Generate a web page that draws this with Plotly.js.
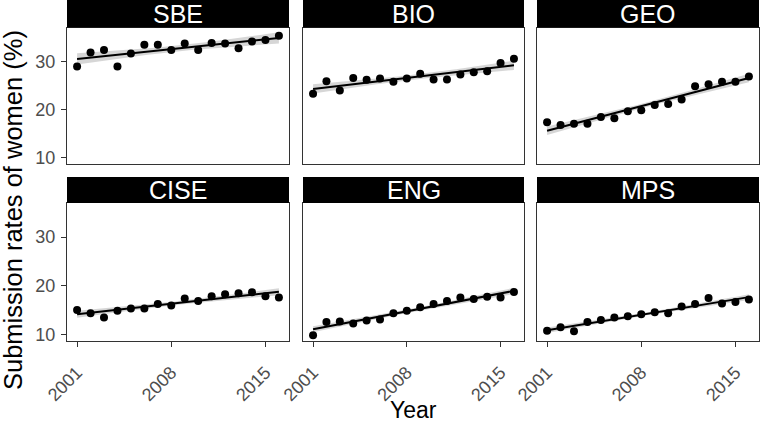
<!DOCTYPE html>
<html><head><meta charset="utf-8">
<script src="https://cdn.plot.ly/plotly-3.0.1.min.js"></script>
<style>html,body{margin:0;padding:0;background:#fff}#chart{width:760px;height:435px}</style>
</head><body><div id="chart"></div>
<script>
const years = [2001,2002,2003,2004,2005,2006,2007,2008,2009,2010,2011,2012,2013,2014,2015,2016];
const panels = ["SBE","BIO","GEO","CISE","ENG","MPS"];
const SBE  = [29.0,31.9,32.4,29.0,31.7,33.5,33.5,32.4,33.75,32.4,33.9,33.75,32.8,34.2,34.5,35.4];
const BIO  = [23.3,25.9,24.0,26.6,26.25,26.5,25.8,26.5,27.5,26.3,26.3,27.3,27.8,28.0,29.7,30.6];
const GEO  = [17.4,16.8,17.1,17.1,18.5,18.2,19.7,19.9,21.0,21.2,22.1,24.9,25.3,25.8,25.8,26.9];
const CISE = [15.07,14.4,13.5,14.9,15.35,15.35,16.3,16.0,17.4,16.9,17.9,18.3,18.5,18.7,17.9,17.6];
const ENG  = [9.9,12.6,12.7,12.3,12.9,13.1,14.4,14.9,15.6,16.3,16.9,17.6,17.3,17.8,17.6,18.75];
const MPS  = [10.8,11.5,10.7,12.6,13.0,13.5,13.75,14.2,14.6,14.4,15.8,16.3,17.5,16.4,16.7,17.2];
const series = [SBE,BIO,GEO,CISE,ENG,MPS];
const xTicks = [2001,2008,2015];
const yTicks = [10,20,30];

const W=760,H=435;
const xDom = [[67,289],[303,524],[537,759]];
const yDom = [[28,164],[203,341]]; // pixel top,bottom
const T = 2.1448; // t(0.975, 14)

function fit(x,y){
  const n=x.length; const mx=x.reduce((a,b)=>a+b)/n; const my=y.reduce((a,b)=>a+b)/n;
  let sxx=0,sxy=0; for(let i=0;i<n;i++){sxx+=(x[i]-mx)**2; sxy+=(x[i]-mx)*(y[i]-my);}
  const b=sxy/sxx, a=my-b*mx; let sse=0; for(let i=0;i<n;i++){sse+=(y[i]-a-b*x[i])**2;}
  const s=Math.sqrt(sse/(n-2));
  const xs=[],yh=[],lo=[],hi=[];
  for(let k=0;k<=80;k++){const xv=x[0]+(x[n-1]-x[0])*k/80; const yv=a+b*xv;
    const se=s*Math.sqrt(1/n+(xv-mx)**2/sxx); xs.push(xv); yh.push(yv); lo.push(yv-T*se); hi.push(yv+T*se);}
  return {xs,yh,lo,hi};
}

const traces=[]; const layout={width:W,height:H,margin:{l:0,r:0,t:0,b:0},showlegend:false,
  paper_bgcolor:'#fff',plot_bgcolor:'#fff',shapes:[],annotations:[],font:{family:'Liberation Sans, Arial, sans-serif'}};

panels.forEach((p,i)=>{
  const col=i%3,row=Math.floor(i/3); const idx=i+1; const xa='x'+(idx===1?'':idx), ya='y'+(idx===1?'':idx);
  const xk='xaxis'+(idx===1?'':idx), yk='yaxis'+(idx===1?'':idx);
  const f=fit(years,series[i]);
  traces.push({x:f.xs.concat(f.xs.slice().reverse()),y:f.hi.concat(f.lo.slice().reverse()),xaxis:xa,yaxis:ya,
    type:'scatter',mode:'lines',fill:'toself',fillcolor:'rgba(153,153,153,0.4)',line:{width:0},hoverinfo:'skip'});
  traces.push({x:f.xs,y:f.yh,xaxis:xa,yaxis:ya,type:'scatter',mode:'lines',line:{color:'#000',width:2}});
  traces.push({x:years,y:series[i],xaxis:xa,yaxis:ya,type:'scatter',mode:'markers',marker:{color:'#000',size:8}});
  const xd=[xDom[col][0]/W,xDom[col][1]/W];
  const yd=[(H-yDom[row][1])/H,(H-yDom[row][0])/H];
  layout[xk]={domain:xd,anchor:ya,range:[2000.25,2016.75],showgrid:false,zeroline:false,showline:true,mirror:true,
    linecolor:'#333',linewidth:1,tickvals:xTicks,ticktext:xTicks.map(String),showticklabels:row===1,
    ticks:row===1?'outside':'',ticklen:5,tickcolor:'#333',tickangle:-45,ticklabelstandoff:8,tickfont:{size:18,color:'#4d4d4d'},automargin:false};
  layout[yk]={domain:yd,anchor:xa,range:[8.7,37.0],showgrid:false,zeroline:false,showline:true,mirror:true,
    linecolor:'#333',linewidth:1,tickvals:yTicks,ticktext:yTicks.map(String),showticklabels:col===0,
    ticks:col===0?'outside':'',ticklen:5,tickcolor:'#333',ticklabelstandoff:2,tickfont:{size:18,color:'#4d4d4d'},automargin:false};
  const sTop=row===0?0:177, sBot=row===0?27.5:203;
  layout.shapes.push({type:'rect',xref:'paper',yref:'paper',x0:xd[0],x1:xd[1],y0:(H-sBot)/H,y1:(H-sTop)/H,
    fillcolor:'#000',line:{width:0}});
  layout.annotations.push({xref:'paper',yref:'paper',x:(xd[0]+xd[1])/2,y:(H-(sTop+sBot)/2)/H,text:p,showarrow:false,
    xanchor:'center',yanchor:'middle',font:{size:25,color:'#fff'}});
});
layout.annotations.push({xref:'paper',yref:'paper',x:413/W,y:(H-410)/H,text:'Year',showarrow:false,xanchor:'center',yanchor:'middle',font:{size:23,color:'#000'}});
layout.annotations.push({xref:'paper',yref:'paper',x:13/W,y:(H-210)/H,text:'Submission rates of women (%)',textangle:-90,showarrow:false,xanchor:'center',yanchor:'middle',font:{size:25.5,color:'#000'}});
Plotly.newPlot('chart',traces,layout,{staticPlot:true});
</script></body></html>
